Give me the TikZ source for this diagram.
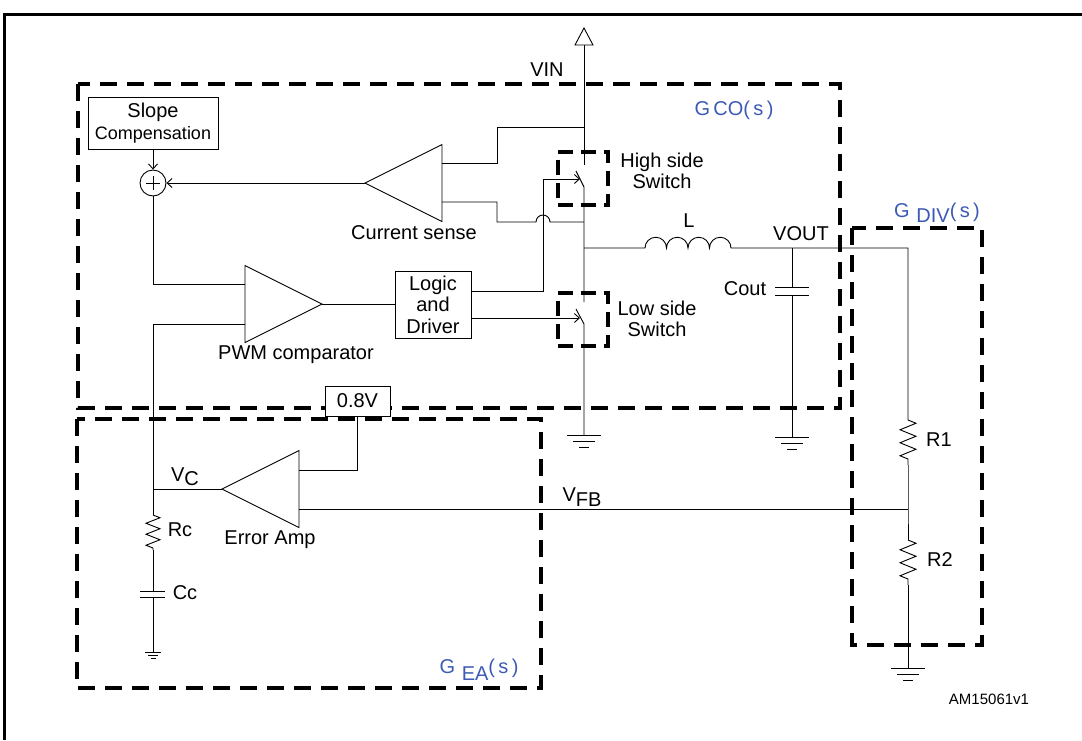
\documentclass[tikz,border=0pt]{standalone}
\usepackage{fontspec}
\setmainfont{Liberation Sans}
\usetikzlibrary{shapes.geometric,arrows.meta,calc,decorations.pathmorphing}
\definecolor{gblue}{RGB}{60,90,180}

\begin{document}
\begin{tikzpicture}[x=1pt, y=-1pt,
    every node/.style={font=\fontsize{20}{21.5}\selectfont, inner sep=0pt},
    wire/.style={line width=0.9pt},
    region/.style={line width=4pt, dash pattern=on 17pt off 10pt},
    swbox/.style={rectangle, draw, line width=4pt, dash pattern=on 15pt off 8pt, minimum width=50pt, minimum height=53pt},
    block/.style={rectangle, draw, line width=0.9pt, fill=white, align=center},
    amp/.style={isosceles triangle, isosceles triangle stretches, draw, line width=0.9pt, minimum width=77pt, minimum height=77pt, outer sep=0pt},
    gate/.style={wire, -{Straight Barb[length=5pt,width=9pt]}},
    res/.style={wire, decorate, decoration={zigzag, segment length=13pt, amplitude=8pt}},
    glabel/.style={text=gblue}]
\useasboundingbox (0,0) rectangle (1082,740);

% Frame
\draw[line width=3pt] (4,740) -- (4,14) -- (1082,14);

% Transfer function regions
\draw[region] (78,84) rectangle (840,408);
\draw[region] (77,419) rectangle (541,688);
\draw[region] (852,228) rectangle (982,645);
\node[glabel] (gco) at (734,110) {G\,CO(\,s\,)};
\node[glabel] (gdiv) at (937,213) {G\,\,\raisebox{-5pt}{DIV}(\,s\,)};
\node[glabel] (gea) at (479,670) {G\,\,\raisebox{-7pt}{EA}(\,s\,)};

% Supply
\draw[wire] (575,45) -- (584,28) -- (593,45) -- cycle;
\coordinate (vin) at (584,45);
\node (vinlbl) at (547,70) {VIN};

% Junctions
\coordinate (vtap) at (584,127);
\coordinate (itap) at (584,222);
\coordinate (sw) at (584,248);
\coordinate (vout) at (792,248);
\coordinate (divtop) at (908,248);
\coordinate (vfb) at (908,509);
\coordinate (vc) at (153,489);
\coordinate (hsg) at (580,179);
\coordinate (lsg) at (580,318);

% Power switches
\node[swbox] (hs) at (583,178) {};
\node[align=center] (hslbl) at (662,171) {High side\\Switch};
\node[swbox] (ls) at (583,319) {};
\node[align=center] (lslbl) at (657,319) {Low side\\Switch};
\draw[wire] (vin) -- (584,165);
\draw[wire] (576,171) -- (584,187) -- (584,302);
\draw[wire] (576,309) -- (584,324) -- (584,435);

% Output filter
\draw[wire] (sw) -- (645,248) arc (180:360:10.75) arc (180:360:10.75)
    arc (180:360:10.75) arc (180:360:10.75) -- (vout) -- (divtop) -- (908,420);
\node (llbl) at (689,221) {L};
\node (voutlbl) at (801,234) {VOUT};
\draw[wire] (vout) -- (792,287) (775,287) -- (809,287)
    (775,295) -- (809,295) (792,295) -- (792,437);
\node (coutlbl) at (745,289) {Cout};

% Divider
\draw[res] (908,420) -- (908,465);
\draw[wire] (908,465) -- (vfb) -- (908,540);
\draw[res] (908,540) -- (908,585);
\draw[wire] (908,585) -- (908,668);
\node (r1lbl) at (939,440) {R1};
\node (r2lbl) at (940,560) {R2};

% Grounds
\foreach \gx/\gy in {584/435, 792/437, 908/668}
  \draw[wire] (\gx-17,\gy) -- (\gx+17,\gy) (\gx-11,\gy+6) -- (\gx+11,\gy+6)
    (\gx-5,\gy+12) -- (\gx+5,\gy+12);

% Current sense
\node[amp, shape border rotate=180, anchor=apex] (csense) at (365,183) {};
\coordinate (csin1) at ($(csense.lower side)+(0,-20)$);
\coordinate (csin2) at ($(csense.lower side)+(0,19)$);
\node (cslbl) at (414,233) {Current sense};
\draw[wire] (csin1) -- ++(55,0) |- (vtap);
\draw[wire] (csin2) -- ++(55,0) |- (536,222) arc (180:360:7) -- (itap);

% Slope compensation and sum
\node[block, minimum width=130pt, minimum height=52pt] (slope) at (153,123)
    {Slope\\{\fontsize{18}{20}\selectfont Compensation}};
\node[circle, draw, line width=0.9pt, minimum size=26pt] (sum) at (153,183) {};
\draw[wire] ($(sum)+(-7,0)$) -- ($(sum)+(7,0)$) ($(sum)+(0,-7)$) -- ($(sum)+(0,7)$);
\draw[gate] (slope) -- (sum);
\draw[gate] (csense.apex) -- (sum);

% PWM comparator
\node[amp, anchor=apex] (pwm) at (322,304) {};
\coordinate (pwmin1) at ($(pwm.lower side)+(0,-20)$);
\coordinate (pwmin2) at ($(pwm.lower side)+(0,20)$);
\node (pwmlbl) at (296,355) {PWM comparator};
\draw[wire] (sum) |- (pwmin1);

% Logic and driver
\node[block, minimum width=76pt, minimum height=67pt] (logic) at (433,304.5) {Logic\\and\\Driver};
\draw[wire] (pwm.apex) -- (pwm.apex -| logic.west);
\draw[gate] ($(logic.east)+(0,-13.5)$) -- ++(72,0) |- (hsg);
\draw[gate] ($(logic.east)+(0,13.5)$) -- (lsg);

% Error amplifier
\node[block, minimum width=65pt, minimum height=30pt] (ref) at (357.5,401) {0.8V};
\node[amp, shape border rotate=180, anchor=apex] (eamp) at (222,489) {};
\coordinate (eain1) at ($(eamp.lower side)+(0,-19)$);
\coordinate (eain2) at ($(eamp.lower side)+(0,20)$);
\node (ealbl) at (270,540) {Error Amp};
\draw[wire] (ref) |- (eain1);
\draw[wire] (eain2) -- (vfb);
\node (vfblbl) at (582,497) {V\raisebox{-5pt}{FB}};
\draw[wire] (pwmin2) -| (vc);
\draw[wire] (eamp.apex) -- (vc);
\node (vclbl) at (185,477) {V\raisebox{-4pt}{C}};

% Compensation network
\draw[wire] (vc) -- (153,515);
\draw[res, decoration={amplitude=7pt, segment length=11pt}] (153,515) -- (153,550);
\draw[wire] (153,550) -- (153,591) (140,591) -- (165,591)
    (140,597) -- (165,597) (153,597) -- (153,652);
\draw[wire] (145,652) -- (161,652) (148,655) -- (158,655) (150.5,658) -- (155.5,658);
\node (rclbl) at (180,530) {Rc};
\node (cclbl) at (185,593) {Cc};

\node[font=\fontsize{15}{17}\selectfont] (code) at (989,699) {AM15061v1};
\end{tikzpicture}
\end{document}
